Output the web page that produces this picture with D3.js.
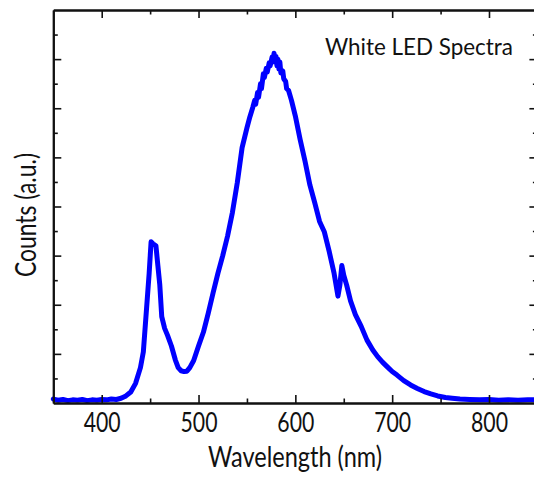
<!DOCTYPE html>
<html>
<head>
<meta charset="utf-8">
<script src="https://cdn.jsdelivr.net/npm/d3@7"></script>
<style>
  html, body { margin: 0; padding: 0; background: #fff; }
  svg { display: block; }
  text { font-family: Lato, "Open Sans", "DejaVu Sans", sans-serif; fill: #111; }
</style>
</head>
<body>
<svg id="chart" width="534" height="477"></svg>
<script>
// ---- data ----
const wavelengths = [
  350,355,360,365,370,375,380,385,390,395,400,405,410,415,420,425,430,435,440,443,
  446,449,451,453,456,458,460,462,465,468,472,476,479,482,485,488,491,495,500,505,
  510,515,520,525,530,535,540,545,550,553,556,558,559,561,562,564,565,567,568,570,
  571,573,574,576,577,578,579,580,581,582,583,584,585,587,588,590,591,593,596,600,
  605,610,615,620,625,630,635,640,644,646,648,650,653,657,662,668,674,680,685,690,
  695,700,705,712,719,726,733,740,747,755,762,770,780,790,800,810,820,830,840,850
];
const counts = [
  0.010,0.007,0.009,0.006,0.008,0.007,0.009,0.006,0.008,0.007,0.009,0.008,0.010,0.009,0.012,0.018,0.028,0.050,0.090,0.130,
  0.230,0.330,0.410,0.405,0.400,0.350,0.300,0.220,0.190,0.172,0.145,0.110,0.090,0.082,0.080,0.081,0.090,0.108,0.145,0.180,
  0.228,0.280,0.330,0.375,0.425,0.485,0.560,0.650,0.700,0.728,0.752,0.770,0.760,0.790,0.778,0.812,0.800,0.838,0.828,0.852,
  0.842,0.866,0.858,0.880,0.868,0.890,0.872,0.882,0.858,0.875,0.850,0.868,0.840,0.845,0.825,0.818,0.800,0.795,0.770,0.730,
  0.670,0.615,0.555,0.510,0.462,0.435,0.385,0.330,0.272,0.300,0.350,0.325,0.300,0.260,0.225,0.195,0.160,0.135,0.118,0.104,
  0.092,0.080,0.071,0.057,0.046,0.037,0.029,0.023,0.018,0.014,0.012,0.010,0.009,0.008,0.009,0.007,0.008,0.007,0.008,0.008
];
const xDomain = [350, 850];
const yDomain = [0, 1];
const xMajorTicks = [400, 500, 600, 700, 800];
const xTickLabels = ["400", "500", "600", "700", "800"];
const xMinorTicks = [450, 550, 650, 750];
const yMajorTicks = [0.125, 0.25, 0.375, 0.5, 0.625, 0.75, 0.875];
const yMinorTicks = [0.0625, 0.1875, 0.3125, 0.4375, 0.5625, 0.6875, 0.8125, 0.9375];
const xTitle = "Wavelength (nm)";
const yTitle = "Counts (a.u.)";
const chartTitle = "White LED Spectra";

// ---- layout ----
const svg = d3.select("#chart");
const pLeft = 53.3, pRight = 537.4, pTop = 10, pBottom = 403;
const x = d3.scaleLinear().domain(xDomain).range([pLeft, pRight]);
const y = d3.scaleLinear().domain(yDomain).range([pBottom, pTop]);

const data = wavelengths.map((w, i) => [w, counts[i]]);

// ---- spectrum line ----
svg.append("path")
  .datum(data)
  .attr("fill", "none")
  .attr("stroke", "#0000ff")
  .attr("stroke-width", 5)
  .attr("stroke-linejoin", "round")
  .attr("stroke-linecap", "round")
  .attr("d", d3.line().x(d => x(d[0])).y(d => y(d[1])));

// ---- axes (ticks inward on all four sides) ----
function styleAxis(g) {
  g.select(".domain").attr("stroke", "#111").attr("stroke-width", 2);
  g.selectAll(".tick line").attr("stroke", "#111").attr("stroke-width", 1.6);
}
const MAJ = 8, MIN = 4.5;

// bottom major with labels
const gb = svg.append("g").attr("transform", `translate(0,${pBottom})`)
  .call(d3.axisBottom(x).tickValues(xMajorTicks).tickSizeInner(-MAJ).tickSizeOuter(0)
    .tickFormat((d, i) => xTickLabels[i]));
styleAxis(gb);
gb.selectAll(".tick text")
  .attr("y", 29).attr("dy", 0)
  .attr("font-size", 26)
  .attr("textLength", 37).attr("lengthAdjust", "spacingAndGlyphs")
  .style("font-family", "Lato, 'Open Sans', sans-serif")
  .attr("fill", "#111");
// bottom minor
const gbm = svg.append("g").attr("transform", `translate(0,${pBottom})`)
  .call(d3.axisBottom(x).tickValues(xMinorTicks).tickSizeInner(-MIN).tickSizeOuter(0).tickFormat(""));
styleAxis(gbm);

// top
const gt = svg.append("g").attr("transform", `translate(0,${pTop})`)
  .call(d3.axisTop(x).tickValues(xMajorTicks).tickSizeInner(-MAJ).tickSizeOuter(0).tickFormat(""));
styleAxis(gt);
const gtm = svg.append("g").attr("transform", `translate(0,${pTop})`)
  .call(d3.axisTop(x).tickValues(xMinorTicks).tickSizeInner(-MIN).tickSizeOuter(0).tickFormat(""));
styleAxis(gtm);

// left
const gl = svg.append("g").attr("transform", `translate(${pLeft},0)`)
  .call(d3.axisLeft(y).tickValues(yMajorTicks).tickSizeInner(-MAJ).tickSizeOuter(0).tickFormat(""));
styleAxis(gl);
const glm = svg.append("g").attr("transform", `translate(${pLeft},0)`)
  .call(d3.axisLeft(y).tickValues(yMinorTicks).tickSizeInner(-MIN).tickSizeOuter(0).tickFormat(""));
styleAxis(glm);

// right
const gr = svg.append("g").attr("transform", `translate(${pRight},0)`)
  .call(d3.axisRight(y).tickValues(yMajorTicks).tickSizeInner(-MAJ).tickSizeOuter(0).tickFormat(""));
styleAxis(gr);
const grm = svg.append("g").attr("transform", `translate(${pRight},0)`)
  .call(d3.axisRight(y).tickValues(yMinorTicks).tickSizeInner(-MIN).tickSizeOuter(0).tickFormat(""));
styleAxis(grm);

// ---- titles ----
svg.append("text")
  .attr("x", 295).attr("y", 467)
  .attr("text-anchor", "middle")
  .attr("font-size", 28)
  .attr("textLength", 174).attr("lengthAdjust", "spacingAndGlyphs")
  .text(xTitle);

svg.append("text")
  .attr("transform", "translate(36,215) rotate(-90)")
  .attr("text-anchor", "middle")
  .attr("font-size", 28)
  .attr("textLength", 124).attr("lengthAdjust", "spacingAndGlyphs")
  .text(yTitle);

svg.append("text")
  .attr("x", 419).attr("y", 55)
  .attr("text-anchor", "middle")
  .attr("font-size", 24)
  .attr("textLength", 188).attr("lengthAdjust", "spacingAndGlyphs")
  .text(chartTitle);
</script>
</body>
</html>
